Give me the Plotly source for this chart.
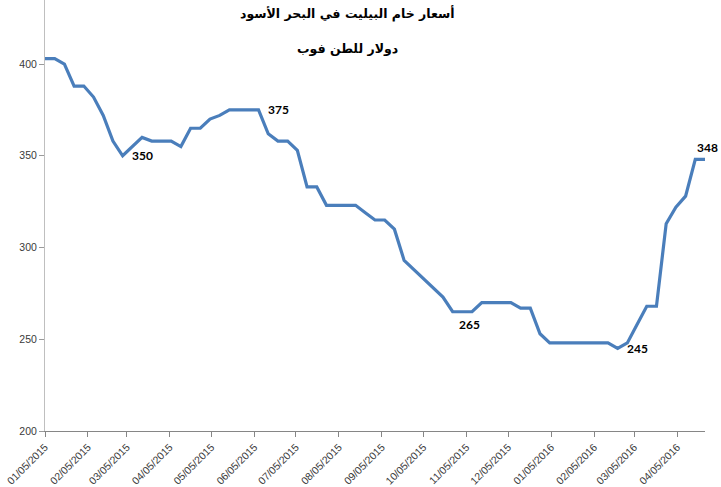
import pandas as pd
import plotly.graph_objects as go

# Weekly observations (MM/DD/YYYY axis), starting 01/05/2015
start_date = "2015-01-05"
prices = [403, 403, 400, 388, 388, 382, 372, 358, 350, 355,
          360, 358, 358, 358, 355, 365, 365, 370, 372, 375,
          375, 375, 375, 362, 358, 358, 353, 333, 333, 323,
          323, 323, 323, 319, 315, 315, 310, 293, 288, 283,
          278, 273, 265, 265, 265, 270, 270, 270, 270, 267,
          267, 253, 248, 248, 248, 248, 248, 248, 248, 245,
          248, 258, 268, 268, 313, 322, 328, 348, 348]
dates = pd.date_range(start=start_date, periods=len(prices), freq="7D")

# labelled points: (index, label position)
label_idx = [8, 22, 43, 59, 68]
label_pos = ["right", "right", "below", "right", "above"]

title_line1 = "أسعار خام البيليت في البحر الأسود"
title_line2 = "دولار للطن فوب"

fig = go.Figure()
fig.add_trace(go.Scatter(
    x=dates, y=prices, mode="lines",
    line=dict(color="#4A7EBB", width=3.2),
    hoverinfo="skip", showlegend=False,
))

shifts = {"right": (20, 0), "below": (7, -13), "above": (2, 12)}
for i, pos in zip(label_idx, label_pos):
    dx, dy = shifts[pos]
    fig.add_annotation(
        x=dates[i], y=prices[i], text=str(prices[i]), showarrow=False,
        xshift=dx, yshift=dy,
        font=dict(family="Lato, Open Sans, sans-serif", size=12, color="#000000", weight="bold"),
    )

for txt, ypix in [(title_line1, 14), (title_line2, 48)]:
    fig.add_annotation(
        x=(347 - 45) / 660, xref="paper", xanchor="center",
        y=1 - ypix / 431, yref="paper", yanchor="middle",
        text=txt, showarrow=False,
        font=dict(family="DejaVu Sans, Noto Sans, sans-serif", size=12.5, color="#000000", weight="bold"),
    )

fig.update_layout(
    width=721, height=487,
    margin=dict(l=45, r=16, t=0, b=56, autoexpand=False),
    paper_bgcolor="white", plot_bgcolor="white",
    font=dict(family="Liberation Sans, Arial, sans-serif", size=10.5, color="#3A3A3A"),
)
fig.update_xaxes(
    range=[dates[0], dates[-1]],
    type="date", automargin=False,
    tick0=start_date, dtick="M1", tickformat="%m/%d/%Y",
    tickangle=-45,
    showgrid=False, zeroline=False,
    showline=True, linecolor="#868686", linewidth=1,
    ticks="outside", ticklen=5, tickcolor="#868686",
)
fig.update_yaxes(
    range=[200, 434.9], automargin=False,
    tick0=200, dtick=50,
    showgrid=False, zeroline=False,
    showline=True, linecolor="#BFBFBF", linewidth=1,
    ticks="outside", ticklen=5, tickcolor="#9A9A9A",
)

fig.write_html(
    "out.html",
    config={"displayModeBar": False},
    post_script="document.body.style.margin='0px';document.body.style.overflow='hidden';",
)
